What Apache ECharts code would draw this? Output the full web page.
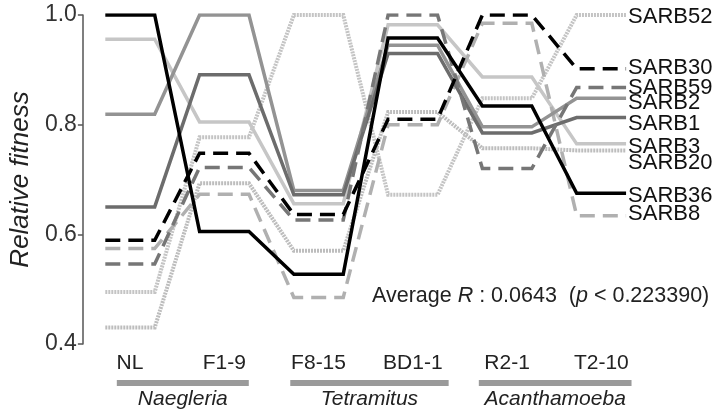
<!DOCTYPE html>
<html><head><meta charset="utf-8">
<script src="https://cdn.jsdelivr.net/npm/echarts@6/dist/echarts.min.js"></script>
<style>html,body{margin:0;padding:0;background:#fff}#c{width:713px;height:415px}</style>
</head><body><div id="c"></div>
<script>
// ---- data ----
const categories = ['NL', 'F1-9', 'F8-15', 'BD1-1', 'R2-1', 'T2-10'];
const groupNames = ['Naegleria', 'Tetramitus', 'Acanthamoeba'];
const groupFirst = [0, 2, 4];
const groupLast = [1, 3, 5];
const yTicks = [0.4, 0.6, 0.8, 1.0];

const SARB52 = [0.495, 0.777, 1.000, 0.672, 0.848, 1.000];
const SARB30 = [0.589, 0.748, 0.636, 0.810, 1.000, 0.902];
const SARB59 = [0.546, 0.722, 0.626, 1.000, 0.720, 0.868];
const SARB2  = [0.819, 1.000, 0.680, 0.945, 0.796, 0.848];
const SARB1  = [0.650, 0.891, 0.672, 0.930, 0.785, 0.813];
const SARB3  = [0.956, 0.805, 0.656, 0.982, 0.887, 0.765];
const SARB20 = [0.430, 0.693, 0.570, 0.823, 0.757, 0.753];
const SARB36 = [1.000, 0.605, 0.527, 0.958, 0.834, 0.675];
const SARB8  = [0.574, 0.673, 0.485, 0.800, 0.985, 0.634];

const statParts = ['Average ', 'R', ' : 0.0643  (', 'p', ' < 0.223390)'];

// ---- styling / drawing ----
const FONT = '"Liberation Sans", Arial, Helvetica, sans-serif';
const H = 0.262; // half width of each plateau, in category units
const seriesDefs = [
  ['SARB52', SARB52, {color:'#c4c4c4', width:4, type:[2,1]}, 2],
  ['SARB20', SARB20, {color:'#bdbdbd', width:4, type:[2,1]}, 12],
  ['SARB3',  SARB3,  {color:'#c6c6c6', width:3.5, type:'solid'}, 3],
  ['SARB8',  SARB8,  {color:'#b0b0b0', width:3.5, type:[15,8]}, -2],
  ['SARB2',  SARB2,  {color:'#939393', width:3.5, type:'solid'}, 5],
  ['SARB1',  SARB1,  {color:'#6c6c6c', width:3.5, type:'solid'}, 6],
  ['SARB59', SARB59, {color:'#767676', width:3.5, type:[15,8]}, 1],
  ['SARB30', SARB30, {color:'#000000', width:3.5, type:[15,8]}, -1],
  ['SARB36', SARB36, {color:'#000000', width:3.5, type:'solid'}, 3]
];
const groupPad = [[0.14, 0.26], [0.30, 0.38], [0.30, 0.32]];

function steps(vals) {
  const out = [];
  vals.forEach((v, i) => { out.push([i - H, v]); out.push([i + H, v]); });
  return out;
}

const series = seriesDefs.map(([name, vals, ls, off], k) => ({
  name, type: 'line', xAxisIndex: 0, yAxisIndex: 0,
  data: steps(vals), symbol: 'none', z: 2 + k,
  lineStyle: {color: ls.color, width: ls.width, type: ls.type, cap: 'butt', join: 'miter'},
  endLabel: {show: true, formatter: name, distance: 2, offset: [0, off],
             color: '#111', fontSize: 22, fontFamily: FONT},
  emphasis: {disabled: true}, animation: false
}));

series.push({
  type: 'custom', xAxisIndex: 0, yAxisIndex: 0, silent: true, z: 1, clip: false,
  data: groupNames.map((n, i) => [groupFirst[i], groupLast[i], i]),
  renderItem(params, api) {
    const i = api.value(2);
    const p = groupPad[i];
    const x0 = api.coord([api.value(0) - p[0], yTicks[0]])[0];
    const x1 = api.coord([api.value(1) + p[1], yTicks[0]])[0];
    const yb = api.coord([0, yTicks[0]])[1];
    return {type: 'group', children: [
      {type: 'rect', shape: {x: x0, y: yb + 36, width: x1 - x0, height: 6}, style: {fill: '#9a9a9a'}},
      {type: 'text', style: {text: groupNames[i], x: (x0 + x1) / 2, y: yb + 55, align: 'center',
        verticalAlign: 'middle', font: 'italic 21px ' + FONT, fill: '#222'}}
    ]};
  }
});

const chart = echarts.init(document.getElementById('c'), null, {renderer: 'canvas'});
chart.setOption({
  animation: false,
  backgroundColor: '#fff',
  grid: {left: 77.5, right: 64.5, top: 15, bottom: 71, containLabel: false},
  xAxis: [
    {type: 'value', min: -0.5, max: 5.5, show: false},
    {type: 'category', data: categories, boundaryGap: true, position: 'bottom',
     axisLine: {show: false}, axisTick: {show: false}, splitLine: {show: false},
     axisLabel: {fontSize: 21, color: '#222', fontFamily: FONT, margin: 9, interval: 0}}
  ],
  yAxis: {
    type: 'value', min: yTicks[0], max: yTicks[yTicks.length - 1], interval: 0.2,
    axisLine: {show: true, onZero: false, lineStyle: {color: '#555', width: 1.5}},
    axisTick: {show: true, length: 5, lineStyle: {color: '#555', width: 1.5}},
    splitLine: {show: false},
    axisLabel: {fontSize: 23, color: '#333', fontFamily: FONT, margin: 6,
                formatter: v => v.toFixed(1)},
    name: 'Relative fitness', nameLocation: 'middle', nameGap: 46,
    nameTextStyle: {fontSize: 26, fontStyle: 'italic', color: '#222', fontFamily: FONT}
  },
  graphic: [{
    type: 'text', x: 372, y: 296, silent: true,
    style: {
      text: '{a|' + statParts[0] + '}{b|' + statParts[1] + '}{a|' + statParts[2] + '}{b|' + statParts[3] + '}{a|' + statParts[4] + '}',
      verticalAlign: 'middle',
      rich: {
        a: {fontSize: 21.5, fontFamily: FONT, fill: '#222'},
        b: {fontSize: 21.5, fontFamily: FONT, fontStyle: 'italic', fill: '#222'}
      }
    }
  }],
  series
});
</script></body></html>
